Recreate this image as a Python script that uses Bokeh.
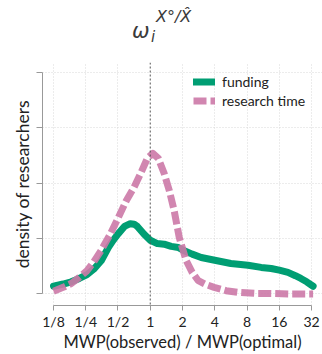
from bokeh.plotting import figure
from bokeh.layouts import column
from bokeh.models import (Range1d, FixedTicker, Span, Legend, LegendItem)
from bokeh.core.properties import value
from bokeh.embed import file_html
from bokeh.resources import INLINE

# x positions are log2(MWP(observed) / MWP(optimal))
tick_pos = [-3, -2, -1, 0, 1, 2, 3, 4, 5]
tick_labels = ["1/8", "1/4", "1/2", "1", "2", "4", "8", "16", "32"]
y_ticks = [0, 1, 2, 3, 4]

funding_x = [-3.0, -2.7, -2.45, -2.2, -1.96, -1.75, -1.52, -1.3, -1.15, -0.99, -0.8,
             -0.62, -0.5, -0.4, -0.19, 0.0, 0.22, 0.43, 0.65, 0.87, 1.02, 1.3,
             1.58, 2.0, 2.5, 3.03, 3.44, 3.75, 4.0, 4.27, 4.5, 4.67, 4.85, 5.05]
funding_y = [0.14, 0.18, 0.22, 0.28, 0.35, 0.45, 0.60, 0.84, 0.97, 1.09, 1.22,
             1.27, 1.26, 1.22, 1.08, 0.97, 0.91, 0.90, 0.86, 0.84, 0.79, 0.72,
             0.66, 0.61, 0.55, 0.52, 0.48, 0.46, 0.43, 0.39, 0.33, 0.28, 0.22, 0.14]

research_x = [-3.0, -2.7, -2.45, -2.2, -1.96, -1.75, -1.52, -1.25, -0.99, -0.74,
              -0.5, -0.28, -0.09, 0.08, 0.25, 0.43, 0.59, 0.74, 0.9, 1.11, 1.3,
              1.49, 1.73, 1.98, 2.35, 2.72, 3.28, 3.75, 4.37, 5.05]
research_y = [0.05, 0.12, 0.19, 0.30, 0.42, 0.58, 0.79, 1.07, 1.38, 1.69,
              1.93, 2.20, 2.45, 2.54, 2.45, 2.18, 1.87, 1.51, 1.02, 0.61, 0.39,
              0.24, 0.17, 0.12, 0.06, 0.03, 0.01, 0.01, 0.0, 0.0]

# title pieces: omega_i^{X°/X̂}
title_texts = ["ω", "i", "X°/X\u0302"]

FONT = "Lato"
TXT = "#222222"
TFONT = value("DejaVu Sans")
TCOL = "#3a3a3a"

# ---------- title strip (its frame is aligned with the main frame: 42..322 px) ----------
t = figure(width=322, height=62, output_backend="svg", toolbar_location=None,
           x_range=Range1d(42, 322), y_range=Range1d(62, 0),
           min_border=0, x_axis_location=None, y_axis_location=None)
t.title.visible = False
t.outline_line_color = None
t.xgrid.visible = False
t.ygrid.visible = False
t.text(x=[131.5], y=[30], text=[title_texts[0]], text_font=TFONT,
       text_font_style="italic", text_font_size="21px", text_color=TCOL,
       text_baseline="alphabetic", text_align="left")
t.text(x=[150.5], y=[36], text=[title_texts[1]], text_font=TFONT,
       text_font_style="italic", text_font_size="15px", text_color=TCOL,
       text_baseline="alphabetic", text_align="left")
t.text(x=[155.5], y=[15.5], text=[title_texts[2]], text_font=TFONT,
       text_font_style="italic", text_font_size="16px", text_color=TCOL,
       text_baseline="alphabetic", text_align="left")

# ---------- main plot ----------
p = figure(width=322, height=292, output_backend="svg", toolbar_location=None,
           frame_width=280, frame_height=243,
           min_border_left=42, min_border_right=0, min_border_top=0, min_border_bottom=49,
           x_range=Range1d(-3.341, 5.341), y_range=Range1d(-0.2077, 4.1806))
p.title.visible = False
p.outline_line_color = None

p.xgrid.ticker = FixedTicker(ticks=[v for v in tick_pos if v != 0])
p.ygrid.ticker = FixedTicker(ticks=y_ticks)
for g in (p.xgrid[0], p.ygrid[0]):
    g.grid_line_color = "#d9d9d9"
    g.grid_line_dash = "1 2"
    g.grid_line_width = 1

xa = p.xaxis[0]
xa.ticker = FixedTicker(ticks=tick_pos)
xa.major_label_overrides = {v: l for v, l in zip(tick_pos, tick_labels)}
xa.bounds = (-3, 5)
xa.axis_label = "MWP(observed) / MWP(optimal)"
xa.axis_label_text_font = FONT
xa.axis_label_text_font_size = "16.5px"
xa.axis_label_text_font_style = "normal"
xa.axis_label_text_color = TXT
xa.axis_label_standoff = -1
xa.major_label_text_font = FONT
xa.major_label_text_font_size = "14px"
xa.major_label_text_color = TXT
xa.major_label_standoff = 2
xa.axis_line_color = "#999999"
xa.major_tick_line_color = "#999999"
xa.major_tick_in = 0
xa.major_tick_out = 5
xa.minor_tick_line_color = None

ya = p.yaxis[0]
ya.ticker = FixedTicker(ticks=y_ticks)
ya.major_label_overrides = {v: "" for v in y_ticks}
ya.bounds = (0, 4)
ya.axis_label = "density of researchers"
ya.axis_label_text_font = FONT
ya.axis_label_text_font_size = "17.5px"
ya.axis_label_text_font_style = "normal"
ya.axis_label_text_color = TXT
ya.axis_label_standoff = 4
ya.major_label_standoff = 0
ya.axis_line_color = "#999999"
ya.major_tick_line_color = "#999999"
ya.major_tick_in = 0
ya.major_tick_out = 6
ya.minor_tick_line_color = None

p.add_layout(Span(location=0, dimension="height", line_color="#555555",
                  line_dash="2 2", line_width=1))

g1 = p.line(funding_x, funding_y, line_color="#009E73", line_width=7,
            line_join="round", line_cap="round")
g2 = p.line(research_x, research_y, line_color="#CC79A7", line_width=7,
            line_dash="13 4", line_join="round", line_cap="butt", line_alpha=0.9)

legend = Legend(items=[LegendItem(label="funding", renderers=[g1]),
                       LegendItem(label="research time", renderers=[g2])],
                location=(151, 195), padding=0, spacing=0, margin=0,
                glyph_width=22, glyph_height=19, label_height=19, label_standoff=7,
                label_text_font=FONT, label_text_font_size="14px",
                label_text_color=TXT,
                border_line_color=None, background_fill_alpha=0)
p.add_layout(legend)

layout = column(t, p, spacing=0)
open("out.html", "w").write(file_html(layout, INLINE))
